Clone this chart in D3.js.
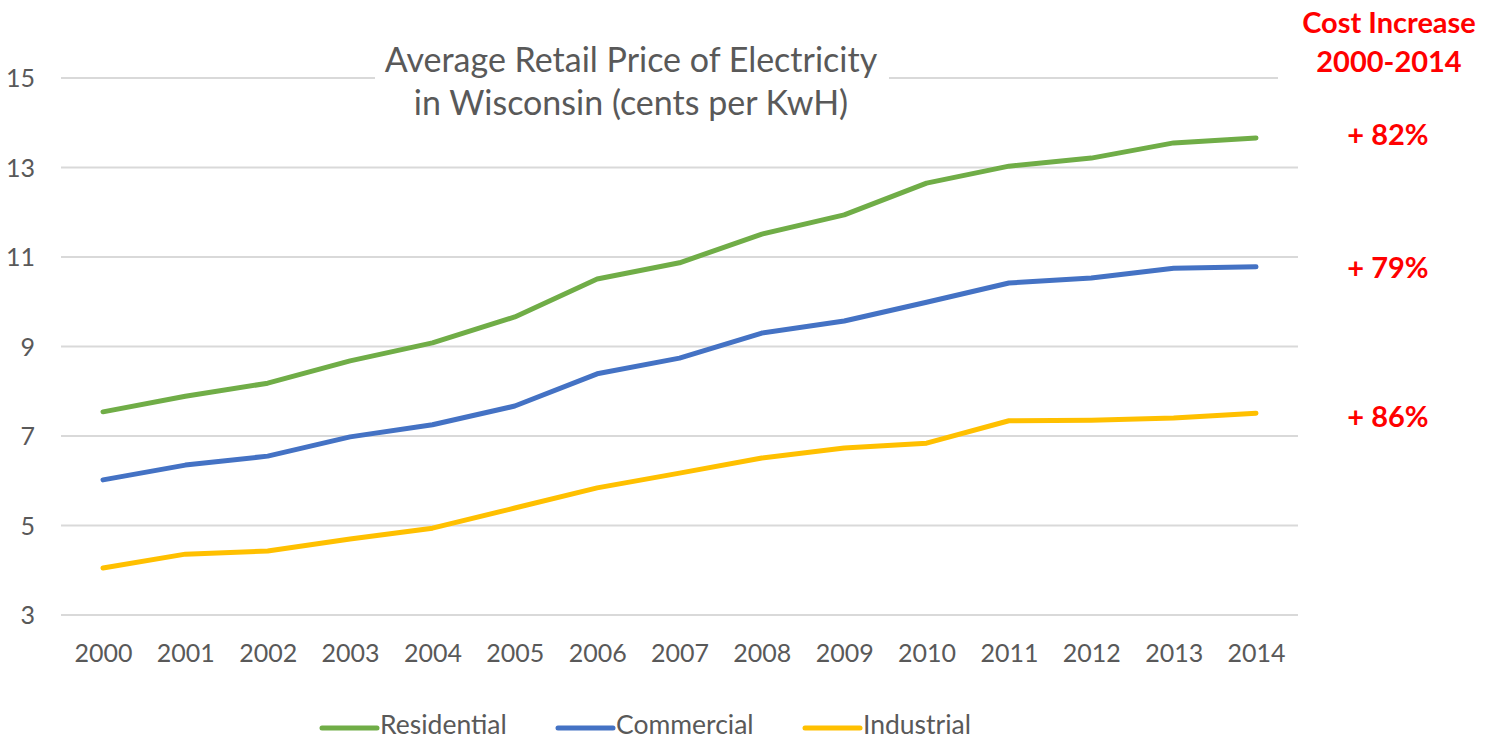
<!DOCTYPE html>
<meta charset="utf-8">
<html>
<head>
<style>
  body { margin: 0; background: #fff; }
  text { font-family: Lato, "Open Sans", sans-serif; }
  .tick text { fill: #595959; font-size: 25px; }
  .grid line { stroke: #d9d9d9; stroke-width: 2px; }
  .red { fill: #ff0000; font-weight: bold; font-size: 29px; }
</style>
<script src="https://cdn.jsdelivr.net/npm/d3@7"></script>
</head>
<body>
<div id="chart"></div>
<script>
// data
var years = [2000, 2001, 2002, 2003, 2004, 2005, 2006, 2007, 2008, 2009, 2010, 2011, 2012, 2013, 2014];
var residential = [7.54, 7.89, 8.18, 8.68, 9.08, 9.66, 10.51, 10.87, 11.51, 11.94, 12.65, 13.03, 13.21, 13.55, 13.66];
var commercial  = [6.02, 6.35, 6.55, 6.98, 7.25, 7.67, 8.39, 8.74, 9.30, 9.57, 9.99, 10.42, 10.53, 10.75, 10.78];
var industrial  = [4.05, 4.36, 4.43, 4.70, 4.94, 5.39, 5.84, 6.17, 6.51, 6.73, 6.84, 7.34, 7.35, 7.40, 7.51];
var seriesNames = ["Residential", "Commercial", "Industrial"];
var colors = ["#70ad47", "#4472c4", "#ffc000"];
var yTicks = [3, 5, 7, 9, 11, 13, 15];
var increases = ["+ 82%", "+ 79%", "+ 86%"];

(function() {
  var W = 1497, H = 740;
  var plotL = 61, plotR = 1298, plotT = 78, plotB = 615;

  var svg = d3.select("#chart").append("svg")
      .attr("width", W).attr("height", H);

  var x = d3.scalePoint().domain(years).range([103, 1256]);
  var y = d3.scaleLinear().domain([3, 15]).range([plotB, plotT]);

  // gridlines (top one stops short, like the original)
  svg.append("g").attr("class", "grid")
    .selectAll("line").data(yTicks).enter().append("line")
      .attr("x1", plotL).attr("x2", function(d) { return d == 15 ? 1278 : plotR; })
      .attr("y1", function(d) { return y(d); }).attr("y2", function(d) { return y(d); });

  // y axis labels
  var yAxis = svg.append("g").attr("transform", "translate(35,0)")
    .call(d3.axisLeft(y).tickValues(yTicks).tickSize(0).tickPadding(0));
  yAxis.select(".domain").remove();
  yAxis.selectAll("text").attr("dy", "0.35em");

  // x axis labels
  var xAxis = svg.append("g").attr("transform", "translate(0,643)")
    .call(d3.axisBottom(x).tickSize(0).tickPadding(0).tickFormat(d3.format("d")));
  xAxis.select(".domain").remove();
  xAxis.selectAll("text").attr("dy", "0.75em");

  // title with white box behind it
  svg.append("rect").attr("x", 375).attr("y", 60).attr("width", 514).attr("height", 40).attr("fill", "#fff");
  var title = svg.append("text").attr("text-anchor", "middle")
    .style("fill", "#595959").style("font-size", "34px");
  title.append("tspan").attr("x", 631).attr("y", 72).text("Average Retail Price of Electricity");
  title.append("tspan").attr("x", 631).attr("y", 115).text("in Wisconsin (cents per KwH)");

  // lines
  var line = d3.line()
    .x(function(d, i) { return x(years[i]); })
    .y(function(d) { return y(d); });

  [residential, commercial, industrial].forEach(function(s, i) {
    svg.append("path").datum(s)
      .attr("d", line)
      .attr("fill", "none")
      .attr("stroke", colors[i])
      .attr("stroke-width", 5)
      .attr("stroke-linecap", "round")
      .attr("stroke-linejoin", "round");
  });

  // red annotations
  svg.append("text").attr("class", "red").attr("text-anchor", "middle")
    .attr("x", 1389).attr("y", 33).text("Cost Increase");
  svg.append("text").attr("class", "red").attr("text-anchor", "middle")
    .attr("x", 1389).attr("y", 72).text("2000-2014");
  svg.selectAll(".inc").data(increases).enter().append("text")
    .attr("class", "red").attr("text-anchor", "middle")
    .attr("x", 1388)
    .attr("y", function(d, i) { return [145, 278, 427][i]; })
    .text(function(d) { return d; });

  // legend
  var legX = [322, 558, 805];
  var leg = svg.selectAll(".legend").data(seriesNames).enter().append("g")
    .attr("transform", function(d, i) { return "translate(" + legX[i] + ",728)"; });
  leg.append("line")
    .attr("x1", 0).attr("x2", 55).attr("y1", 0).attr("y2", 0)
    .attr("stroke", function(d, i) { return colors[i]; })
    .attr("stroke-width", 5).attr("stroke-linecap", "round");
  leg.append("text")
    .attr("x", 58).attr("y", 6)
    .style("fill", "#595959").style("font-size", "26.5px")
    .text(function(d) { return d; });
})();
</script>
</body>
</html>
